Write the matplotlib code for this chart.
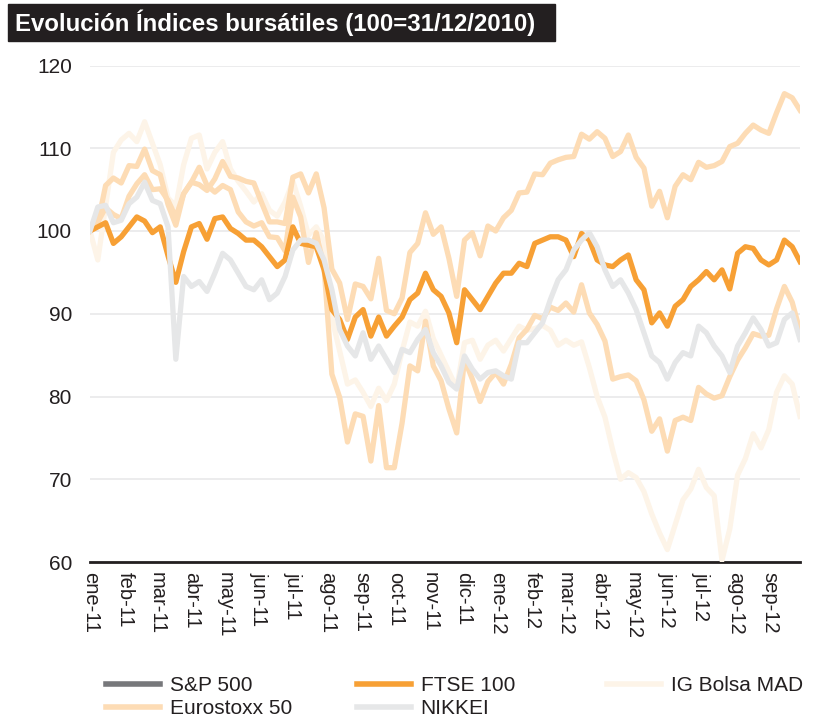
import matplotlib.pyplot as plt
from matplotlib.lines import Line2D
from matplotlib.patches import Rectangle
import pandas as pd

plt.rcParams['font.family'] = ['Liberation Sans', 'DejaVu Sans']

# cierres semanales, base 100 = 31/12/2010
fechas = pd.date_range('2010-12-31', periods=92, freq='W-FRI')

sp500 = [100, 101.1, 102.8, 102.0, 101.5, 104.2, 105.7, 106.8, 105.0, 105.1,
         103.7, 101.7, 104.5, 105.9, 105.6, 104.9, 106.3, 108.4, 106.6, 106.4,
         106.0, 105.8, 103.4, 101.1, 101.1, 100.9, 106.5, 106.9, 104.6, 106.9,
         102.8, 95.4, 93.7, 89.3, 93.6, 93.3, 91.8, 96.7, 90.4, 90.0,
         91.9, 97.4, 98.5, 102.2, 99.6, 100.5, 96.7, 92.1, 98.9, 99.8,
         97.0, 100.6, 100.0, 101.6, 102.5, 104.6, 104.7, 106.9, 106.8, 108.2,
         108.6, 108.9, 109.0, 111.7, 111.1, 112.0, 111.2, 109.0, 109.6, 111.6,
         108.9, 107.6, 103.0, 104.8, 101.6, 105.4, 106.8, 106.2, 108.3, 107.7,
         107.9, 108.4, 110.2, 110.6, 111.8, 112.8, 112.2, 111.8, 114.3, 116.6,
         116.1, 114.6]

eurostoxx = [100, 100.9, 105.5, 106.4, 105.8, 107.9, 107.8, 109.9, 107.3, 106.8,
             103.2, 100.7, 104.5, 105.9, 107.7, 105.5, 104.7, 105.5, 105.0, 102.3,
             101.1, 100.6, 101.0, 99.3, 99.2, 97.6, 104.1, 101.7, 96.2, 99.8,
             95.6, 82.7, 79.9, 74.5, 77.9, 77.6, 72.2, 78.9, 71.4, 71.4,
             76.8, 83.7, 83.1, 89.1, 83.7, 81.9, 78.5, 75.6, 84.5, 82.1,
             79.4, 81.8, 82.9, 81.5, 83.9, 87.1, 88.1, 89.8, 89.4, 90.8,
             90.4, 91.3, 90.2, 93.5, 90.1, 88.7, 86.7, 82.1, 82.4, 82.6,
             81.9, 79.6, 75.8, 77.3, 73.4, 77.1, 77.5, 77.1, 81.1, 80.3,
             79.8, 80.1, 82.4, 84.4, 85.9, 87.6, 87.3, 87.4, 90.6, 93.3,
             91.4, 87.9]

ftse = [100, 100.5, 101, 98.5, 99.3, 100.5, 101.7, 101.2, 99.8, 100.5,
        97.0, 93.8, 97.5, 100.5, 100.9, 99.0, 101.5, 101.7, 100.3, 99.7,
        98.9, 98.9, 98.1, 96.9, 95.7, 96.5, 100.5, 98.5, 98.3, 98.1,
        95.3, 90.5, 89.3, 86.9, 89.6, 90.5, 87.3, 89.6, 87.3, 88.5,
        89.6, 91.7, 92.5, 94.9, 92.9, 92.1, 90.1, 86.5, 92.9, 91.7,
        90.5, 92.1, 93.7, 94.9, 94.9, 96.1, 95.7, 98.5, 98.9, 99.3,
        99.3, 98.9, 96.9, 99.7, 98.9, 96.5, 95.9, 95.7, 96.5, 97.1,
        94.1, 92.9, 88.9, 90.1, 88.5, 90.9, 91.7, 93.3, 94.1, 95.1,
        94.1, 95.3, 93.0, 97.3, 98.1, 97.9, 96.5, 95.9, 96.5, 98.9,
        98.1, 96.3]

nikkei = [100, 102.9, 103.1, 101.0, 101.3, 103.3, 104.1, 105.9, 103.7, 103.3,
          100.5, 84.5, 94.5, 93.3, 93.9, 92.7, 94.9, 97.3, 96.5, 94.9,
          93.3, 92.9, 94.1, 91.7, 92.5, 94.5, 97.7, 98.9, 98.9, 98.5,
          96.5, 92.9, 88.1, 86.1, 84.9, 87.7, 84.5, 86.1, 84.5, 82.9,
          85.7, 85.3, 86.9, 88.1, 85.3, 83.7, 81.7, 80.9, 84.9, 83.3,
          82.1, 82.9, 83.1, 82.5, 82.1, 86.5, 86.5, 87.7, 88.9, 91.7,
          94.1, 95.3, 97.7, 98.9, 99.8, 98.1, 95.3, 93.3, 94.1, 92.5,
          90.5, 87.7, 84.9, 84.1, 82.1, 84.1, 85.3, 84.9, 88.5, 87.7,
          86.1, 84.9, 82.9, 86.1, 87.7, 89.5, 88.1, 86.1, 86.5, 89.3,
          90.1, 86.9]

igbm = [100, 96.5, 103.0, 109.5, 111.0, 111.8, 110.8, 113.2, 110.6, 108.0,
        104.0, 103.0, 108.0, 111.2, 111.6, 107.5, 109.5, 110.8, 107.5, 106.0,
        104.8, 103.5, 104.5, 102.5, 101.8, 103.5, 106.0, 103.0, 99.5, 100.5,
        98.8, 89.5, 85.5, 81.5, 82.0, 80.5, 78.8, 81.0, 79.5, 81.5,
        85.5, 89.0, 88.5, 90.3, 87.0, 85.0, 83.0, 81.0, 86.5, 86.8,
        84.5, 86.2, 86.8, 85.5, 87.0, 88.5, 88.0, 88.2, 88.6, 88.0,
        86.2, 86.8, 86.2, 86.6, 83.5, 80.0, 77.5, 73.5, 70.0, 70.8,
        70.2, 68.5, 65.8, 63.5, 61.5, 64.5, 67.5, 68.8, 71.2, 69.0,
        68.0, 60.2, 64.0, 70.5, 72.5, 75.5, 73.8, 76.0, 80.5, 82.5,
        81.5, 77.6]

meses = ['ene', 'feb', 'mar', 'abr', 'may', 'jun', 'jul', 'ago', 'sep', 'oct', 'nov', 'dic']

texto = '#231f20'
melocoton = '#fddcb5'
naranja = '#f7a035'
gris = '#e6e7e8'
tenue = '#fdf4e8'

fig = plt.figure(figsize=(8.3, 7.2), dpi=100)
ax = fig.add_axes([90/830, 1-562/720, 710/830, (562-65.5)/720])

# orden de dibujo: el mas tenue debajo
capas = [(igbm, tenue), (sp500, melocoton), (eurostoxx, melocoton), (ftse, naranja), (nikkei, gris)]
for i, (vals, col) in enumerate(capas):
    ax.plot(fechas, vals, color=col, lw=3.8, zorder=2.6 + 0.1*i, solid_joinstyle='round')

ax.set_ylim(60, 120)
ax.set_xlim(fechas[0], fechas[-1])
ax.set_yticks(range(60, 121, 10))
marcas = pd.date_range('2011-01-01', '2012-09-01', freq='MS')
ax.set_xticks(marcas)
ax.set_xticklabels([f'{meses[d.month-1]}-{d.year % 100:02d}' for d in marcas], rotation=270)
ax.tick_params(axis='y', length=0, labelsize=15, colors=texto, pad=13)
ax.tick_params(axis='x', length=0, labelsize=14.5, colors=texto, pad=7)

ax.yaxis.grid(True, color='#e9e9ea', lw=1.2)
ax.set_axisbelow(True)
for s in ['left', 'right', 'top']:
    ax.spines[s].set_visible(False)
ax.spines['bottom'].set_color(texto)
ax.spines['bottom'].set_linewidth(2)

# barra del titulo
fig.add_artist(Rectangle((8/830, 1-41/720), (555-8)/830, 37/720,
                         transform=fig.transFigure, color=texto))
fig.text(15/830, 1-23/720, 'Evolución Índices bursátiles (100=31/12/2010)',
         color='white', fontsize=17.3, fontweight='bold', va='center')

# leyenda en tres columnas
columnas = [
    (106, [('#77787b', 'S&P 500'), (melocoton, 'Eurostoxx 50')]),
    (357, [(naranja, 'FTSE 100'), (gris, 'NIKKEI')]),
    (607, [(tenue, 'IG Bolsa MAD')]),
]
for x, entradas in columnas:
    manejadores = [Line2D([], [], color=c, lw=4) for c, _ in entradas]
    fig.legend(manejadores, [t for _, t in entradas], loc='upper left',
               bbox_to_anchor=(x/830, 1-676/720), frameon=False, fontsize=15,
               handlelength=2.6, handletextpad=0.45, labelspacing=0.2,
               borderpad=0, borderaxespad=0, labelcolor=texto)

fig.savefig('out.png', dpi=100)
